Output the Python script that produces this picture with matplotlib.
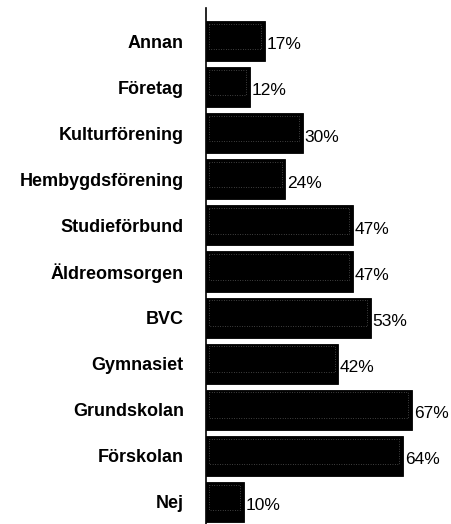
import numpy as np
import matplotlib.pyplot as plt

# Data
categories = ["Annan", "Företag", "Kulturförening", "Hembygdsförening", "Studieförbund",
              "Äldreomsorgen", "BVC", "Gymnasiet", "Grundskolan", "Förskolan", "Nej"]
values = [17, 12, 30, 24, 47, 47, 53, 42, 67, 64, 10]

plt.rcParams['font.family'] = ['Liberation Sans', 'DejaVu Sans']

fig = plt.figure(figsize=(4.52, 5.24), dpi=100)
# axis spine at x=206px, top at y=8px, runs to the bottom of the image
ax = fig.add_axes([206 / 452, 0, 1 - 206 / 452, 1 - 8 / 524])

x_min, x_max = -2.9, 80.5
y = np.arange(len(categories))
vals = np.array(values)

# bars start at the axis line
ax.barh(y, vals - x_min, height=0.87, left=x_min, color='black', edgecolor='black', linewidth=0.6)
# faint scan-like inner border seen on the original bars
ax.barh(y - 0.1, vals - x_min - 2.2, height=0.55, left=x_min + 0.9, fill=False,
        edgecolor='#7a7a7a', linestyle=(0, (1, 2.5)), linewidth=0.5)

for yi, v in zip(y, values):
    ax.text(v + 0.5, yi + 0.08, f"{v}%", va='center', ha='left', fontsize=12.5)

ax.set_xlim(x_min, x_max)
ax.set_ylim(10.48, -0.72)
ax.set_yticks(y)
ax.set_yticklabels(categories, fontsize=13)
for t in ax.get_yticklabels():
    t.set_fontweight('bold')
ax.tick_params(axis='y', length=0, pad=16)
ax.set_xticks([])
for side in ['top', 'right', 'bottom']:
    ax.spines[side].set_visible(False)
ax.spines['left'].set_linewidth(1.2)

fig.savefig('out.png', dpi=100)
